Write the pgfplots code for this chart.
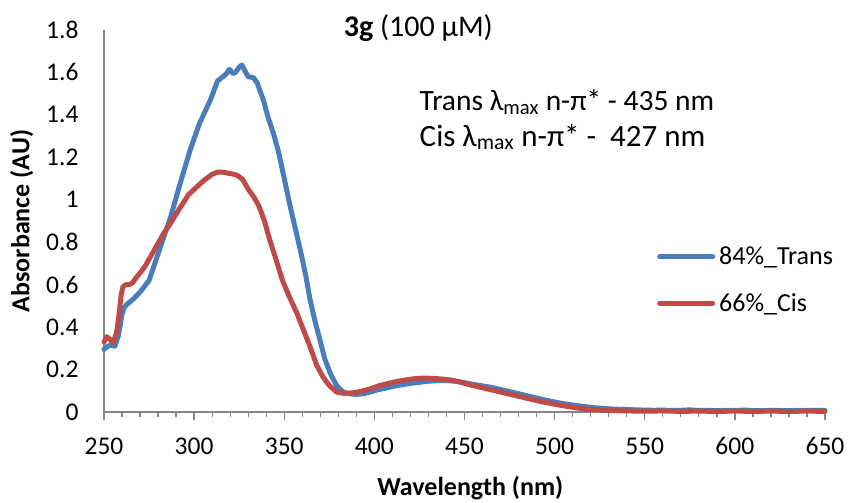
\documentclass[border=0pt]{standalone}
\usepackage{pgfplots}
\pgfplotsset{compat=1.18}
\usepackage{fontspec}
\setmainfont{Carlito}
\definecolor{exblue}{HTML}{4A7EBB}
\definecolor{exred}{HTML}{BE4B48}
\definecolor{axgray}{HTML}{868686}
\begin{document}
\begin{tikzpicture}
\useasboundingbox (0pt,0pt) rectangle (851pt,503pt);
\begin{axis}[
  at={(104pt,91pt)}, anchor=origin,
  scale only axis, width=721pt, height=382pt,
  xmin=250, xmax=650, ymin=0, ymax=1.8,
  clip=false,
  axis x line*=bottom, axis y line*=left,
  axis line style={draw=axgray, line width=1.5pt},
  xtick={250,300,...,650}, minor x tick num=4,
  ytick={0,0.2,...,1.8},
  tick align=outside,
  major tick length=8pt, minor tick length=5pt,
  xtick style={draw=axgray, line width=1.3pt},
  minor tick style={draw=axgray, line width=1.3pt},
  ytick style={draw=none},
  /pgf/number format/assume math mode=true,
  ticklabel style={font=\fontsize{25.5}{30}\selectfont},
  yticklabel style={/pgf/number format/fixed, xshift=-14pt},
  xticklabel style={yshift=-14pt},
  scaled y ticks=false,
  xlabel={\textbf{Wavelength (nm)}},
  ylabel={\textbf{Absorbance (AU)}},
  label style={font=\fontsize{26}{30}\selectfont},
  xlabel style={at={(axis description cs:0.508,-0.199)}, anchor=center},
  ylabel style={at={(axis description cs:-0.114,0.5)}, anchor=center},
  legend style={at={(axis description cs:0.767,0.3455)}, anchor=west, draw=none, fill=none,
    inner sep=0pt, font=\fontsize{26}{30}\selectfont, row sep=23pt,
    /tikz/every odd column/.append style={column sep=2pt}},
  legend cell align=left,
  legend image code/.code={\draw[#1, line width=5pt, line cap=round] (2pt,0pt) -- (55pt,0pt);},
  every axis plot/.append style={line width=5pt, line join=round, line cap=round},
]
\addplot[exblue] coordinates {
(250,0.295)(252,0.31)(254,0.315)(256,0.31)(258,0.36)(260,0.46)(261,0.49)(263,0.51)(266,0.53)
(270,0.565)(275,0.62)(279,0.72)(283,0.82)(287,0.92)(292,1.07)(298,1.24)(303,1.36)(309,1.47)
(313,1.56)(316,1.58)(318,1.595)(319.5,1.615)(321.5,1.595)(323,1.60)(325,1.625)(326.5,1.635)
(328,1.61)(330,1.58)(333,1.575)(335,1.55)(338.4,1.47)(341,1.39)(343.9,1.316)(347,1.22)
(350,1.10)(353,0.98)(356,0.87)(359,0.76)(362,0.64)(364.3,0.53)(367,0.43)(369.8,0.34)
(372.5,0.25)(375.4,0.184)(379,0.125)(382.6,0.094)(386,0.086)(390,0.083)(394,0.086)
(398,0.095)(402,0.105)(406,0.112)(410,0.12)(415,0.128)(420,0.135)(425,0.14)(430,0.145)
(435,0.148)(440,0.148)(445,0.145)(450,0.138)(455,0.13)(460,0.123)(465,0.116)(470,0.106)
(475,0.096)(480,0.086)(485,0.076)(490,0.066)(495,0.056)(500,0.047)(505,0.039)(510,0.033)
(515,0.027)(520,0.022)(525,0.018)(530,0.015)(535,0.013)(540,0.012)(545,0.010)(550,0.009)
(555,0.008)(560,0.009)(565,0.007)(570,0.008)(575,0.010)(580,0.007)(585,0.008)(590,0.006)
(595,0.008)(600,0.007)(605,0.009)(610,0.007)(615,0.006)(620,0.008)(625,0.007)(630,0.006)
(635,0.008)(640,0.007)(645,0.008)(650,0.007)
};
\addlegendentry{84\%\_Trans}
\addplot[exred] coordinates {
(250,0.33)(251.5,0.355)(253,0.345)(255,0.325)(257,0.375)(258.5,0.47)(259.5,0.55)(260.5,0.59)
(262,0.60)(264,0.60)(266,0.61)(268,0.635)(270,0.655)(273,0.69)(276,0.735)(279,0.78)
(283,0.84)(287,0.89)(292,0.96)(297,1.025)(302,1.065)(306,1.095)(310,1.12)(313,1.13)
(316,1.13)(319,1.125)(322,1.12)(324,1.115)(327,1.095)(330,1.05)(333,1.015)(336,0.97)
(339,0.90)(342,0.81)(345,0.73)(349,0.62)(353,0.54)(357,0.466)(360.5,0.39)(364.3,0.308)
(368,0.22)(371.5,0.165)(375,0.125)(379,0.094)(383,0.088)(388,0.09)(393,0.098)(398,0.11)
(403,0.125)(408,0.135)(413,0.145)(418,0.152)(423,0.158)(428,0.16)(433,0.158)(438,0.155)
(443,0.15)(448,0.14)(453,0.128)(458,0.118)(463,0.108)(468,0.098)(473,0.088)(478,0.078)
(483,0.068)(488,0.058)(493,0.048)(498,0.04)(503,0.032)(508,0.025)(513,0.018)(518,0.013)
(523,0.010)(530,0.007)(540,0.005)(550,0.004)(560,0.005)(570,0.003)(580,0.004)(590,0.003)
(600,0.004)(610,0.003)(620,0.004)(630,0.003)(640,0.004)(650,0.003)
};
\addlegendentry{66\%\_Cis}
\node[anchor=center, font=\fontsize{30}{35}\selectfont] at (axis description cs:0.436,1.005) {\textbf{3g} (100 µM)};
\node[anchor=west, font=\fontsize{29.5}{34}\selectfont] at (axis description cs:0.433,0.8115) {Trans λ\textsubscript{max} n-π* - 435 nm};
\node[anchor=west, font=\fontsize{31}{36}\selectfont] at (axis description cs:0.433,0.72) {Cis λ\textsubscript{max} n-π* -\ \ 427 nm};
\end{axis}
\end{tikzpicture}
\end{document}
